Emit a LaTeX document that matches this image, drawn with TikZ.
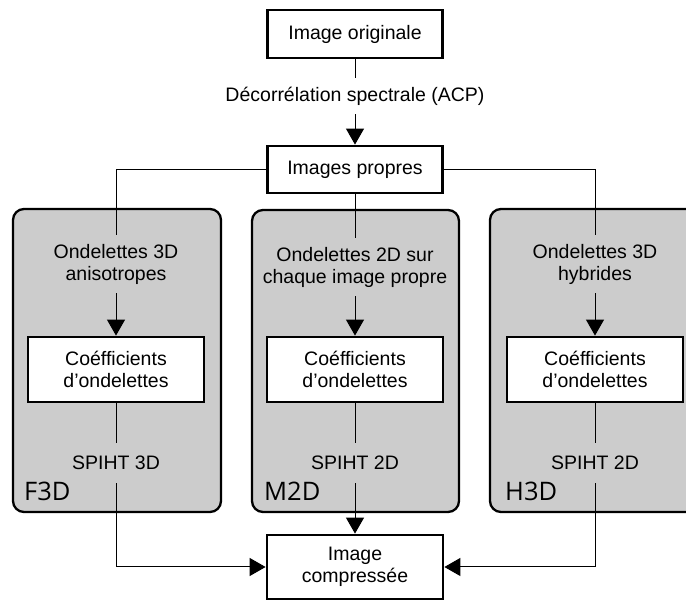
\documentclass[tikz,border=0pt]{standalone}
\usepackage{fontspec}
\setmainfont{Liberation Sans}
\newfontfamily\labfont{Open Sans}
\usetikzlibrary{arrows.meta,calc}
\definecolor{panelgray}{RGB}{204,204,204}
\begin{document}
\begin{tikzpicture}[x=1pt,y=-1pt,
  every node/.style={font=\fontsize{19.5}{22}\selectfont},
  mainbox/.style={draw,line width=2.8pt,fill=white,minimum width=175pt,inner sep=0pt,align=center},
  coefbox/.style={draw,line width=2.8pt,fill=white,minimum width=176pt,minimum height=65pt,inner sep=0pt,align=center},
  txt/.style={align=center,inner xsep=2pt,inner ysep=9pt},
  panel/.style={draw,line width=2.3pt,fill=panelgray,rounded corners=11pt},
  lab/.style={font=\labfont\fontsize{25.5}{27}\selectfont,anchor=base west,inner sep=0pt},
  conn/.style={line width=1pt},
  arr/.style={line width=1pt,-{Triangle[length=16pt,width=18pt]}}
]
\clip (0,0) rectangle (686,601);
\useasboundingbox (0,0) rectangle (686,601);

% panels
\draw[panel] (13,209) rectangle (221,512);
\draw[panel] (252,210) rectangle (459,512);
\draw[panel] (490,209) rectangle (710,512);
\node[lab] (lF) at (24,501) {F3D};
\node[lab] (lM) at (264,501) {M2D};
\node[lab] (lH) at (505,501) {H3D};

% top
\node[mainbox,minimum height=48pt] (orig) at (355,34) {Image originale};
\node[txt] (acp) at (355,96) {Décorrélation spectrale (ACP)};
\node[mainbox,minimum height=47pt] (prop) at (355,169.5) {Images propres};

% column text
\node[txt] (oL) at (116,264) {Ondelettes 3D\\anisotropes};
\node[txt] (oM) at (355,267) {Ondelettes 2D sur\\chaque image propre};
\node[txt] (oR) at (595,264) {Ondelettes 3D\\hybrides};

\node[coefbox] (cL) at (116,369.5) {Coéfficients\\d{\char"27}ondelettes};
\node[coefbox] (cM) at (355,369.5) {Coéfficients\\d{\char"27}ondelettes};
\node[coefbox] (cR) at (595,369.5) {Coéfficients\\d’ondelettes};

\node[txt,inner ysep=13pt] (sL) at (116,463) {SPIHT 3D};
\node[txt,inner ysep=13pt] (sM) at (355,463) {SPIHT 2D};
\node[txt,inner ysep=13pt] (sR) at (595,463) {SPIHT 2D};

\node[mainbox,minimum width=176pt,minimum height=64pt] (comp) at (355,567) {Image\\compressée};

% connectors
\draw[conn] (orig.south) -- (acp.north);
\draw[arr] (acp.south) -- (prop.north);
\draw[conn] (prop.west) -| (oL.north);
\draw[conn] (prop.south) -- (oM.north);
\draw[conn] (prop.east) -| (oR.north);
\draw[arr] (oL.south) -- (cL.north);
\draw[arr] (oM.south) -- (cM.north);
\draw[arr] (oR.south) -- (cR.north);
\draw[conn] (cL.south) -- (sL.north);
\draw[conn] (cM.south) -- (sM.north);
\draw[conn] (cR.south) -- (sR.north);
\draw[arr] (sL.south) |- (comp.west);
\draw[arr] (sM.south) -- (comp.north);
\draw[arr] (sR.south) |- (comp.east);
\end{tikzpicture}
\end{document}
